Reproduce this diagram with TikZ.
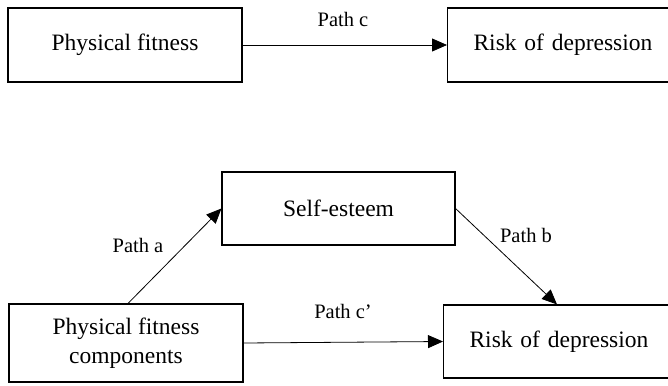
\documentclass[tikz,border=0pt]{standalone}
\usepackage{fontspec}
\setmainfont{Liberation Serif}
\usetikzlibrary{arrows.meta,positioning}
\begin{document}
\begin{tikzpicture}[x=1pt,y=-1pt,
  box/.style={draw,line width=1.1pt,inner sep=0pt,font=\fontsize{23.5}{28.5}\selectfont,align=center},
  openbox/.style={box,anchor=west,minimum width=260pt,text width=210pt,inner xsep=26pt,align=left},
  lbl/.style={font=\fontsize{20.5}{25}\selectfont,inner sep=0pt},
  arr/.style={line width=0.8pt,-{Triangle[length=15pt,width=13pt]}}]
\useasboundingbox (0,0) rectangle (668,385);
\node[box,minimum width=234pt,minimum height=74pt] (tl) at (125,45) {Physical fitness};
\node[openbox,minimum height=74pt] (tr) at (447,45) {Risk of depression};
\node[box,minimum width=233pt,minimum height=73pt] (se) at (338.5,208.5) {Self-esteem};
\node[box,minimum width=234pt,minimum height=78pt] (bl) at (126,343) {Physical fitness\\components};
\node[openbox,minimum height=73pt] (br) at (443,341.5) {Risk of depression};
\coordinate (bt) at ([xshift=114pt]br.north west);
\coordinate (as) at ([xshift=2pt]bl.north);
\draw[arr] (tl.east) -- (tr.west);
\draw[arr] (as) -- (se.west);
\draw[arr] (se.east) -- (bt);
\draw[arr] (bl.east) -- (br.west);
\node[lbl] (lc) at (343,19) {Path c};
\node[lbl] (la) at (138,245) {Path a};
\node[lbl] (lb) at (526,235) {Path b};
\node[lbl] (lcp) at (343,311) {Path c’};
\end{tikzpicture}
\end{document}
